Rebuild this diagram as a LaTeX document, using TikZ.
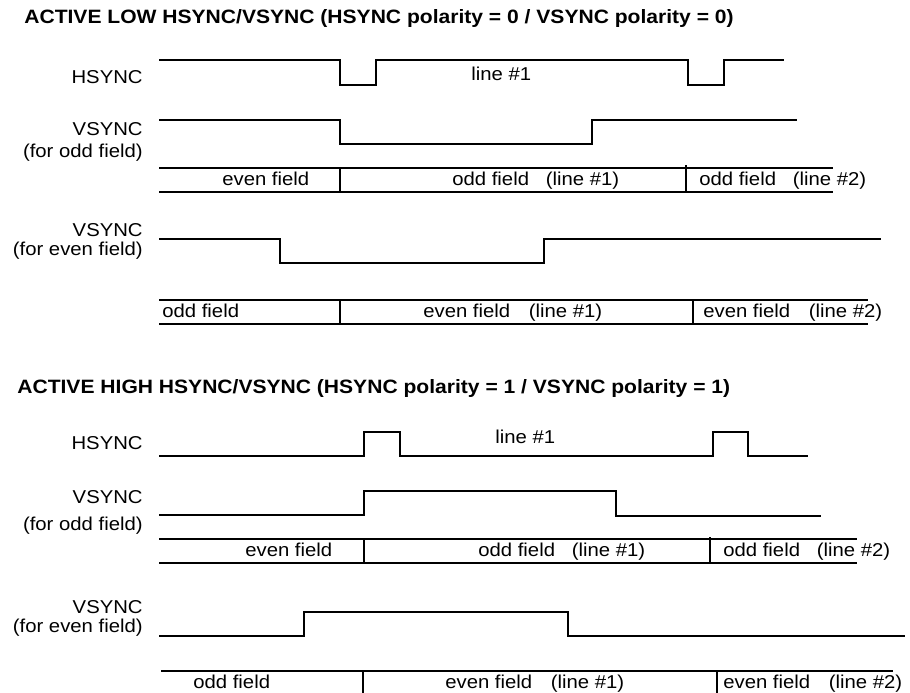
\documentclass[tikz,border=0pt]{standalone}
\usepackage{fontspec}
\setmainfont{Liberation Sans}[FakeStretch=1.09]

\begin{document}
\begin{tikzpicture}[x=0.02cm,y=-0.02cm,
  every node/.style={inner sep=0pt, font=\fontsize{10.6}{12.7}\selectfont},
  sig/.style={line width=1.1pt},
  ttl/.style={anchor=base west, font=\fontsize{11}{13}\selectfont\bfseries},
  lbl/.style={anchor=base east},
  txt/.style={anchor=base west}]
  \useasboundingbox (0,0) rectangle (910,693);
  % active low
  \node[ttl] (tlow) at (24,24) {ACTIVE LOW HSYNC/VSYNC (HSYNC polarity = 0 / VSYNC polarity = 0)};
  \node[lbl] (hsA)  at (143,83)  {HSYNC};
  \node[txt] (lnA)  at (471,80)  {line \#1};
  \node[lbl] (voA)  at (143,135) {VSYNC};
  \node[lbl] (voA2) at (143,157) {(for odd field)};
  \node[lbl] (veA)  at (143,236) {VSYNC};
  \node[lbl] (veA2) at (143,255) {(for even field)};
  \draw[sig] (159,60) -| (340,85) -| (376,60) -| (688,85) -| (724,60) -- (784,60);
  \draw[sig] (159,120) -| (340,144) -| (592,120) -- (797,120);
  \draw[sig] (159,168) -- (833,168) (159,192) -- (833,192)
             (340,168) -- (340,192) (686,165) -- (686,192);
  \node[txt] (fA1) at (222,185) {even field};
  \node[txt] (fA2) at (452,185) {odd field\hspace{0.9em}(line \#1)};
  \node[txt] (fA3) at (699,185) {odd field\hspace{0.9em}(line \#2)};
  \draw[sig] (159,239) -| (280,263) -| (544,239) -- (881,239);
  \draw[sig] (159,300) -- (868,300) (159,324) -- (868,324)
             (340,300) -- (340,324) (693,300) -- (693,324);
  \node[txt] (fB1) at (162,317) {odd field};
  \node[txt] (fB2) at (423,317) {even field\hspace{1em}(line \#1)};
  \node[txt] (fB3) at (703,317) {even field\hspace{1em}(line \#2)};
  % active high
  \node[ttl] (thigh) at (17,393) {ACTIVE HIGH HSYNC/VSYNC (HSYNC polarity = 1 / VSYNC polarity = 1)};
  \node[lbl] (hsC)  at (143,449) {HSYNC};
  \node[txt] (lnC)  at (495,443) {line \#1};
  \node[lbl] (voC)  at (143,503) {VSYNC};
  \node[lbl] (voC2) at (143,530) {(for odd field)};
  \node[lbl] (veC)  at (143,613) {VSYNC};
  \node[lbl] (veC2) at (143,632) {(for even field)};
  \draw[sig] (159,456) -| (364,432) -| (400,456) -| (713,432) -| (748,456) -- (808,456);
  \draw[sig] (159,515) -| (364,491) -| (616,516) -- (821,516);
  \draw[sig] (159,539) -- (857,539) (159,563) -- (857,563)
             (364,539) -- (364,563) (710,537) -- (710,563);
  \node[txt] (fC1) at (245,556) {even field};
  \node[txt] (fC2) at (478,556) {odd field\hspace{0.9em}(line \#1)};
  \node[txt] (fC3) at (723,556) {odd field\hspace{0.9em}(line \#2)};
  \draw[sig] (159,636) -| (304,612) -| (568,636) -- (905,636);
  \draw[sig] (161,671) -- (893,671) (363,671) -- (363,693) (717,671) -- (717,693);
  \node[txt] (fD1) at (193,688) {odd field};
  \node[txt] (fD2) at (445,688) {even field\hspace{1em}(line \#1)};
  \node[txt] (fD3) at (723,688) {even field\hspace{1em}(line \#2)};
\end{tikzpicture}
\end{document}
